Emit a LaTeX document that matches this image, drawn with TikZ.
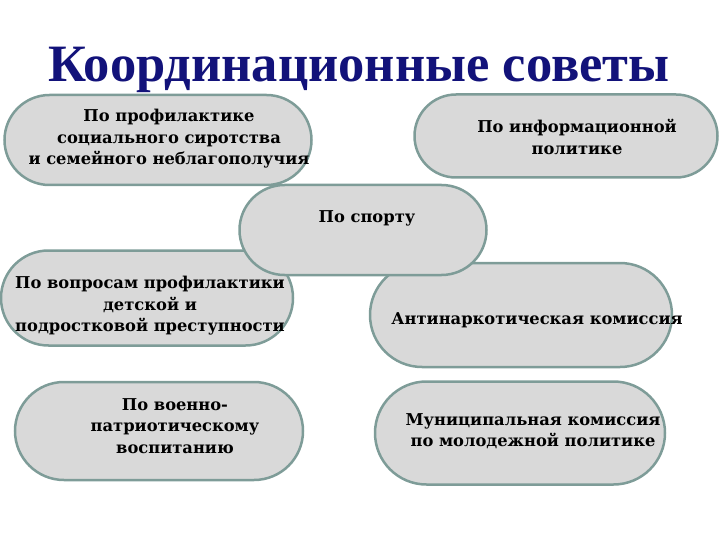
\documentclass[tikz,border=0pt]{standalone}
\usepackage{fontspec}
\setmainfont{DejaVu Serif}
\newfontfamily\titlefont{Liberation Serif}
\usetikzlibrary{shapes.misc}
\definecolor{pillfill}{HTML}{D9D9D9}
\definecolor{pillline}{HTML}{7E9C98}
\definecolor{titleblue}{HTML}{12127A}

\begin{document}
\begin{tikzpicture}[x=1pt, y=-1pt,
	pill/.style={rounded rectangle, fill=pillfill, draw=pillline, line width=2.5pt, inner sep=0pt},
	lbl/.style={align=center, font=\fontsize{16.3}{21.5}\selectfont\bfseries, inner sep=0pt}]
				\useasboundingbox (0,0) rectangle (720,540);
				
				\node[font=\titlefont\fontsize{52.5}{58}\selectfont\bfseries, text=titleblue] (title) at (359,70) {Координационные советы};
				
				\node[pill, minimum width=307, minimum height=90] (orphan) at (158,140) {};
				\node[pill, minimum width=303, minimum height=83] (info) at (566,136) {};
				\node[pill, minimum width=292, minimum height=95] (crime) at (147,298) {};
				\node[pill, minimum width=302, minimum height=104] (drugs) at (521,315) {};
				\node[pill, minimum width=288, minimum height=98] (army) at (159,431) {};
				\node[pill, minimum width=290, minimum height=103] (youth) at (520,433) {};
				\node[pill, minimum width=247, minimum height=90] (sport) at (363,230) {};
				
				\node[lbl] (orphanT) at (169,139) {По профилактике\\социального сиротства\\и семейного неблагополучия};
				\node[lbl] (infoT) at (577,137) {По информационной\\политике};
				\node[lbl] (sportT) at (367,218) {По спорту};
				\node[lbl] (crimeT) at (150,306) {По вопросам профилактики\\детской и\\подростковой преступности};
				\node[lbl] (drugsT) at (537,320) {Антинаркотическая комиссия};
				\node[lbl] (armyT) at (175,426) {По военно-\\патриотическому\\воспитанию};
				\node[lbl] (youthT) at (533,431) {Муниципальная комиссия\\по молодежной политике};
				\end{tikzpicture}
\end{document}
